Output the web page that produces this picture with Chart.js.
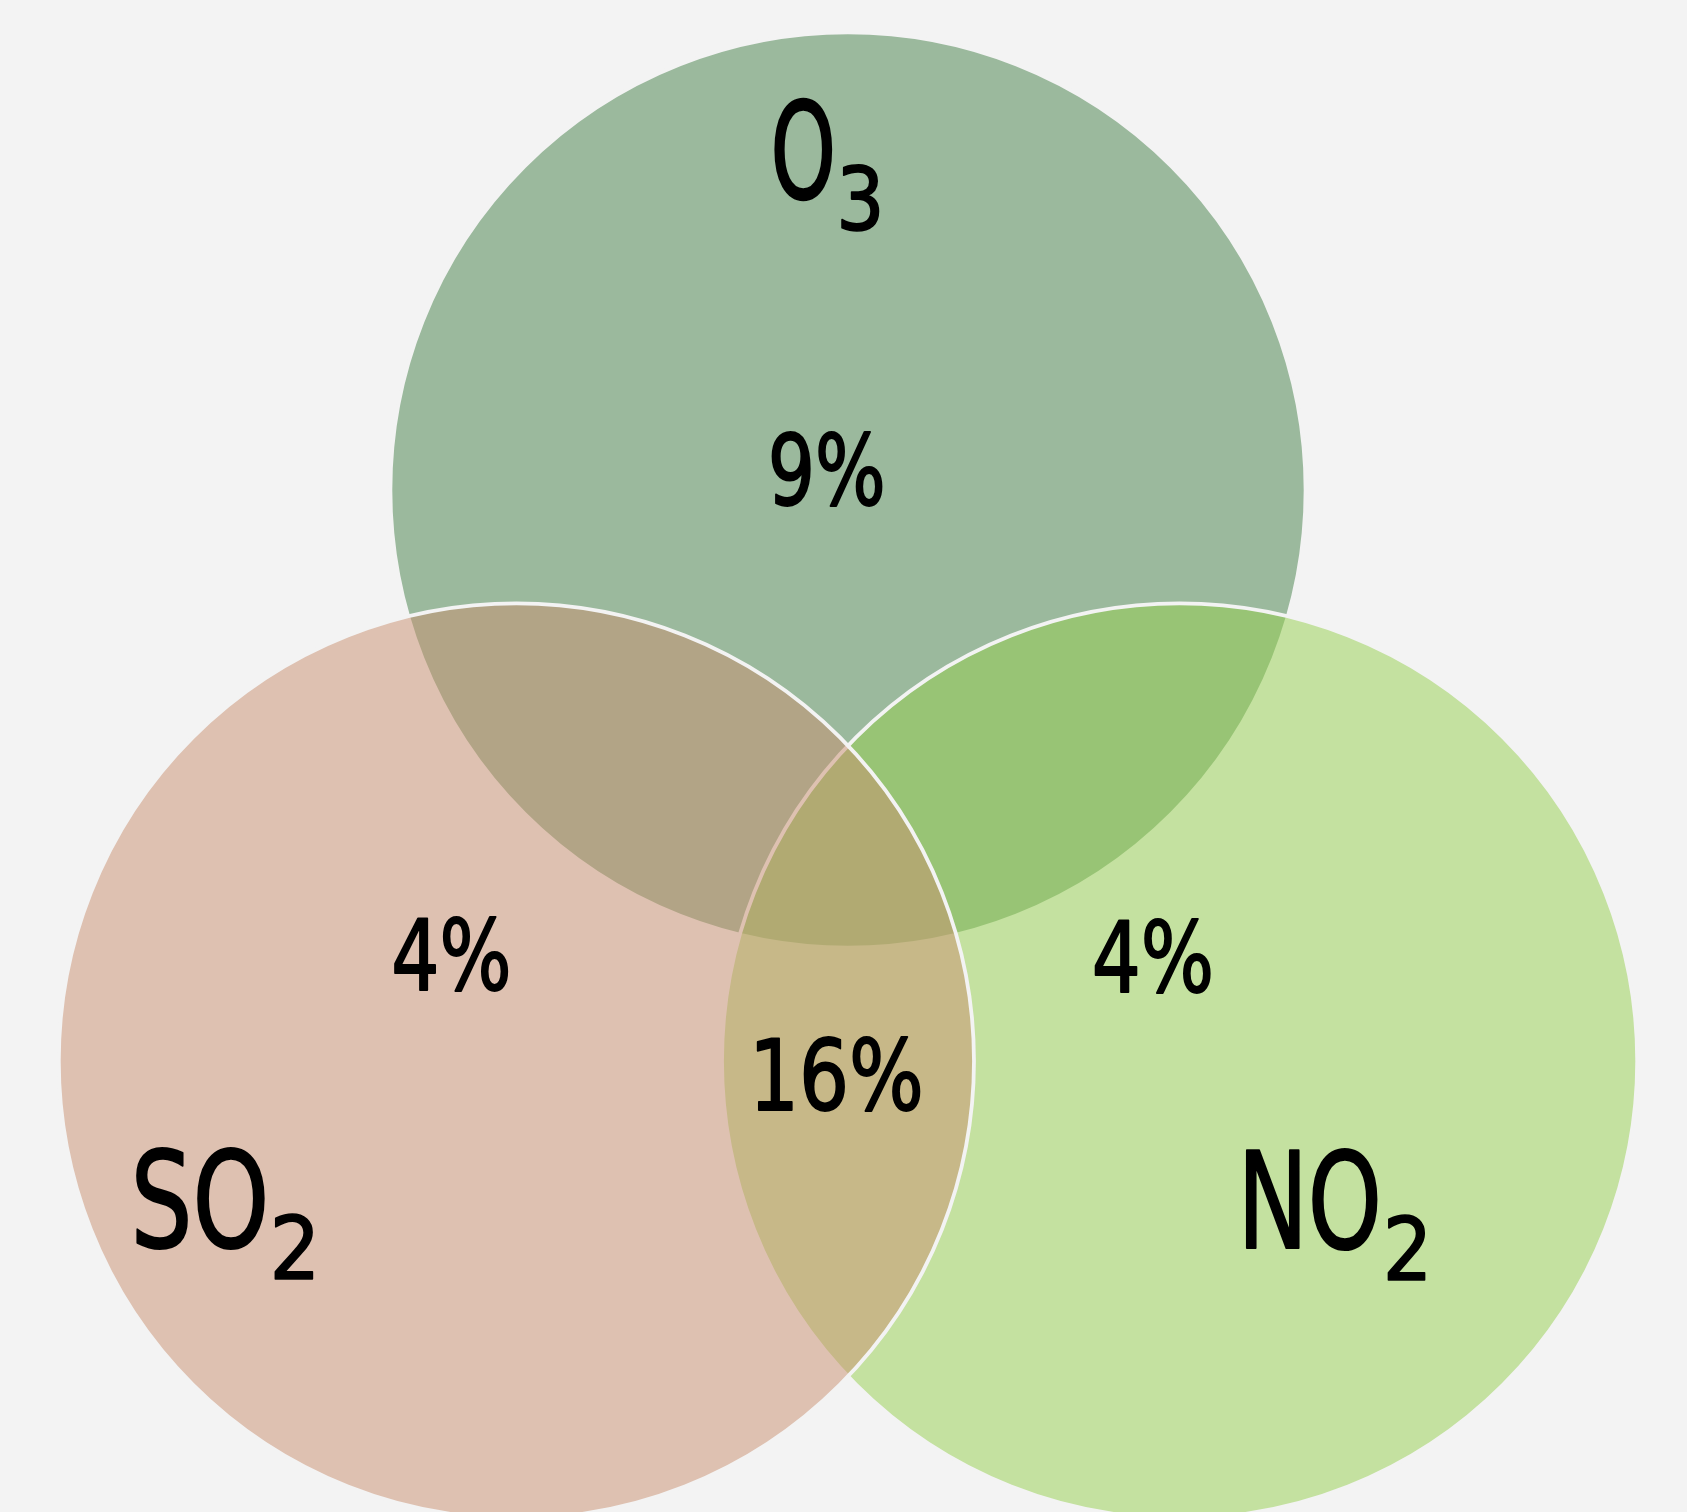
<!DOCTYPE html>
<html>
<head>
<meta charset="utf-8">
<script src="https://cdn.jsdelivr.net/npm/chart.js@4/dist/chart.umd.min.js"></script>
<style>
  html, body { margin: 0; padding: 0; background: #f3f3f3; }
  #wrap { width: 1687px; height: 1512px; }
</style>
</head>
<body>
<div id="wrap"><canvas id="c" width="1687" height="1512"></canvas></div>
<script>
// ---------------- DATA ----------------
const setBase = ['O', 'SO', 'NO'];          // set names (main part)
const setSub = ['3', '2', '2'];             // set names (subscript part)
const regionNames = ['O3 only', 'SO2 only', 'NO2 only', 'O3 ∩ SO2 ∩ NO2'];
const regionValues = [9, 4, 4, 16];         // percent shown in each region
const regionLabels = regionValues.map(v => v + '%');

// ---------------- LAYOUT (Venn geometry, radius = 1 unit) ----------------
const layout = {
  cx: [0, -0.7272, 0.7272],
  cy: [0, -1.2522, -1.2522],
  r: [1.0035, 1.0035, 1.0035],
  drawOrder: [0, 2, 1],                       // O3, NO2, SO2
  labelX: [-0.161, -1.561, 0.873],            // ink left of set label
  labelY: [0.6404, -1.6601, -1.6623],         // baseline of set label
  labelW: [57, 128, 131],                     // ink width of main part
  subW: [36.5, 38.5, 37.5],                   // ink width of subscript
  regionX: [-0.046, -0.870, 0.668, -0.021],   // ink centre of region label
  regionY: [-0.0329, -1.0965, -1.1009, -1.3596], // baseline of region label
  regionW: [110, 113, 115, 163],              // ink width of region label
  xMin: -1.8596, xMax: 1.8399, yMin: -2.2412, yMax: 1.0746
};
const fills = ['rgba(67,127,71,0.5)', 'rgba(201,143,111,0.5)', 'rgba(149,207,77,0.5)'];
const BG = '#f3f3f3';
const FONT = '"DejaVu Sans Condensed", "Liberation Sans Narrow", "Liberation Sans", sans-serif';
const CAP = 0.729;

const bgPlugin = {
  id: 'bg',
  beforeDraw(chart) {
    const c = chart.ctx;
    c.save(); c.fillStyle = BG; c.fillRect(0, 0, chart.width, chart.height); c.restore();
  }
};

function inkW(m) { return m.actualBoundingBoxLeft + m.actualBoundingBoxRight; }
// draw text so that its ink starts at x and spans width w
function drawFit(ctx, t, x, y, w, lw) {
  const m = ctx.measureText(t);
  const hs = w / inkW(m);
  ctx.save();
  ctx.translate(x + m.actualBoundingBoxLeft * hs, y); ctx.scale(hs, 1);
  ctx.fillText(t, 0, 0);
  ctx.lineWidth = lw / hs; ctx.lineJoin = 'round';
  ctx.strokeText(t, 0, 0);
  ctx.restore();
}

const labelPlugin = {
  id: 'vennLabels',
  afterDatasetsDraw(chart) {
    const { ctx, scales: { x, y } } = chart;
    ctx.save();
    ctx.fillStyle = '#000';
    ctx.strokeStyle = '#000';
    ctx.textAlign = 'left';
    ctx.textBaseline = 'alphabetic';

    const mainSize = 97 / CAP, subSize = 64 / CAP, pSize = 72 / CAP;
    setBase.forEach((base, i) => {
      const ax = x.getPixelForValue(layout.labelX[i]);
      const ay = y.getPixelForValue(layout.labelY[i]);
      ctx.font = `${mainSize}px ${FONT}`;
      drawFit(ctx, base, ax, ay, layout.labelW[i], 1.6);
      ctx.font = `${subSize}px ${FONT}`;
      drawFit(ctx, setSub[i], ax + layout.labelW[i] + 10.5, ay + 32, layout.subW[i], 1.6);
    });

    ctx.font = `${pSize}px ${FONT}`;
    regionLabels.forEach((t, i) => {
      const cxp = x.getPixelForValue(layout.regionX[i]);
      const cyp = y.getPixelForValue(layout.regionY[i]);
      drawFit(ctx, t, cxp - layout.regionW[i] / 2, cyp, layout.regionW[i], 1.6);
    });
    ctx.restore();
  }
};

const order = layout.drawOrder;
new Chart(document.getElementById('c'), {
  type: 'scatter',
  data: {
    datasets: [{
      label: 'Venn',
      data: order.map(i => ({ x: layout.cx[i], y: layout.cy[i] })),
      showLine: false,
      pointStyle: 'circle',
      pointBackgroundColor: order.map(i => fills[i]),
      pointBorderColor: BG,
      pointBorderWidth: 3.8,
      pointHoverBorderWidth: 3.8,
      pointRadius: (c) => {
        const s = c.chart.scales.x;
        const i = order[c.dataIndex];
        return Math.abs(s.getPixelForValue(layout.r[i]) - s.getPixelForValue(0));
      },
      pointHoverRadius: 0,
      clip: false
    }]
  },
  options: {
    responsive: false,
    animation: false,
    events: [],
    layout: { padding: 0 },
    plugins: { legend: { display: false }, tooltip: { enabled: false } },
    scales: {
      x: { type: 'linear', min: layout.xMin, max: layout.xMax, display: false },
      y: { type: 'linear', min: layout.yMin, max: layout.yMax, display: false }
    }
  },
  plugins: [bgPlugin, labelPlugin]
});
</script>
</body>
</html>
